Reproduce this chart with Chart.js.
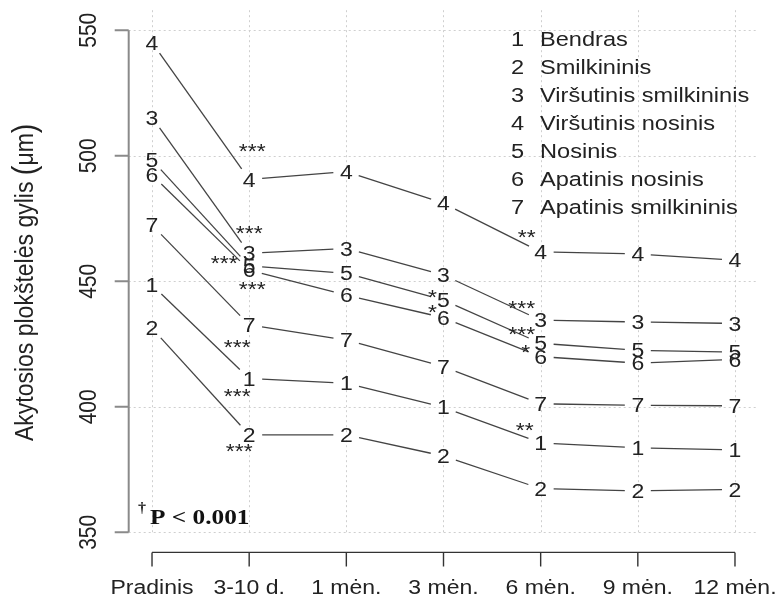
<!DOCTYPE html>
<html>
<head>
<meta charset="utf-8">
<script src="https://cdn.jsdelivr.net/npm/chart.js@4.4.1/dist/chart.umd.min.js"></script>
<style>
  html, body { margin: 0; padding: 0; background: #ffffff; }
  #wrap { width: 778px; height: 605px; position: relative; }
</style>
</head>
<body>
<div id="wrap"><canvas id="chart" width="778" height="605"></canvas></div>
<script>
// Visits
const timePoints = ['Pradinis', '3-10 d.', '1 mėn.', '3 mėn.', '6 mėn.', '9 mėn.', '12 mėn.'];

// Regions (legend order = marker digit)
const regionNames = ['Bendras', 'Smilkininis', 'Viršutinis smilkininis', 'Viršutinis nosinis',
                     'Nosinis', 'Apatinis nosinis', 'Apatinis smilkininis'];

// Mean depth (µm) per region at each visit
const bendras     = [448.5, 411.3, 409.4, 399.8, 385.6, 383.7, 382.8];
const smilkininis = [431.3, 388.8, 388.8, 380.4, 367.4, 366.5, 367.1];
const virsSmilk   = [515.3, 461.2, 463.1, 452.5, 434.5, 433.8, 433.2];
const virsNos     = [545.1, 490.6, 493.7, 481.1, 461.7, 460.9, 458.4];
const nosinis     = [498.3, 456.1, 453.2, 442.5, 425.3, 422.5, 421.8];
const apatNos     = [492.4, 454.5, 444.5, 435.5, 420.0, 417.4, 418.9];
const apatSmilk   = [472.4, 432.6, 426.6, 416.0, 401.2, 400.6, 400.4];

// Significance of change versus the previous visit
const sigBendras     = ['', '***', '', '', '**', '', ''];
const sigSmilkininis = ['', '***', '', '', '', '', ''];
const sigVirsSmilk   = ['', '***', '', '', '***', '', ''];
const sigVirsNos     = ['', '***', '', '', '**', '', ''];
const sigNosinis     = ['', '***', '', '*', '***', '', ''];
const sigApatNos     = ['', '***', '', '*', '*', '', ''];
const sigApatSmilk   = ['', '***', '', '', '', '', ''];

const yTicks = [350, 400, 450, 500, 550];
const yTitleMain = 'Akytosios plokštelės gylis ';
const yTitleUnit = 'μm';
const footNote = 'P < 0.001';

const seriesValues = [bendras, smilkininis, virsSmilk, virsNos, nosinis, apatNos, apatSmilk];
const seriesSig = [sigBendras, sigSmilkininis, sigVirsSmilk, sigVirsNos, sigNosinis, sigApatNos, sigApatSmilk];

// ---- styling / placement ----
const SANS = '"Liberation Sans", Arial, Helvetica, sans-serif';
const SERIF = '"Liberation Serif", "Times New Roman", serif';
const SX = 1.15;          // horizontal widening of all lettering
const FS = 20;            // base font size
const GAP = 13;           // gap between connecting lines and the digit markers
const INK = '#222222';
const LINE = '#444444';

// where each star group sits relative to its marker, keyed "series,visit"
const starOffset = {
  '0,1': [-12, 13], '1,1': [-10, 12], '2,1': [0, -25], '3,1': [3, -33],
  '4,1': [-25, -7], '5,1': [3, 15], '6,1': [-12, 18],
  '4,3': [-11, -8], '5,3': [-11, -10],
  '0,4': [-16, -17], '2,4': [-19, -17], '3,4': [-14, -19], '4,4': [-19, -14], '5,4': [-15, -9]
};

function drawText(ctx, s, x, y, o) {
  o = o || {};
  ctx.save();
  ctx.translate(x, y);
  ctx.scale(SX, 1);
  if (o.rotate) ctx.rotate(o.rotate);
  ctx.font = o.font || (FS + 'px ' + SANS);
  ctx.fillStyle = o.color || INK;
  ctx.textAlign = o.align || 'center';
  ctx.textBaseline = o.baseline || 'alphabetic';
  ctx.fillText(s, 0, 0);
  ctx.restore();
}

// vertical axis title with enlarged brackets around the unit
function drawYTitle(ctx, x, yc) {
  const fMain = '23px ' + SANS, fPar = '29px ' + SANS;
  ctx.save();
  ctx.translate(x, yc);
  ctx.scale(SX, 1);
  ctx.rotate(-Math.PI / 2);
  ctx.fillStyle = INK;
  ctx.textBaseline = 'alphabetic';
  ctx.textAlign = 'left';
  const parts = [[yTitleMain, fMain, 0], ['(', fPar, 2], [yTitleUnit, fMain, 0], [')', fPar, 2]];
  let total = 0;
  parts.forEach(p => { ctx.font = p[1]; total += ctx.measureText(p[0]).width; });
  let pos = -total / 2;
  parts.forEach(p => {
    ctx.font = p[1];
    ctx.fillText(p[0], pos, p[2]);
    pos += ctx.measureText(p[0]).width;
  });
  ctx.restore();
}

const rPlot = {
  id: 'rPlot',
  afterDraw(chart) {
    const ctx = chart.ctx;
    const xs = chart.scales.x, ys = chart.scales.y;
    const area = chart.chartArea;
    const yLow = ys.getPixelForValue(yTicks[0]);
    const yHigh = ys.getPixelForValue(yTicks[yTicks.length - 1]);

    // dotted reference grid
    ctx.save();
    ctx.strokeStyle = '#cfcfcf';
    ctx.lineWidth = 1;
    ctx.setLineDash([2, 3]);
    timePoints.forEach((_, j) => {
      const x = Math.round(xs.getPixelForValue(j)) + 0.5;
      ctx.beginPath(); ctx.moveTo(x, area.top); ctx.lineTo(x, yLow); ctx.stroke();
    });
    yTicks.forEach(v => {
      const y = Math.round(ys.getPixelForValue(v)) + 0.5;
      ctx.beginPath(); ctx.moveTo(area.left, y); ctx.lineTo(area.right, y); ctx.stroke();
    });
    ctx.restore();

    // y axis
    ctx.save();
    ctx.strokeStyle = '#8a8a8a';
    ctx.lineWidth = 2;
    ctx.beginPath();
    ctx.moveTo(area.left, yLow); ctx.lineTo(area.left, yHigh);
    yTicks.forEach(v => {
      const y = ys.getPixelForValue(v);
      ctx.moveTo(area.left, y); ctx.lineTo(area.left - 14, y);
    });
    ctx.stroke();
    ctx.restore();
    yTicks.forEach(v => {
      const y = ys.getPixelForValue(v);
      drawText(ctx, String(v), 96, y, { rotate: -Math.PI / 2, font: '21px ' + SANS });
    });

    // x axis
    const x0 = xs.getPixelForValue(0), x1 = xs.getPixelForValue(timePoints.length - 1);
    ctx.save();
    ctx.strokeStyle = '#333333';
    ctx.lineWidth = 1.4;
    ctx.beginPath();
    ctx.moveTo(x0, area.bottom); ctx.lineTo(x1, area.bottom);
    timePoints.forEach((_, j) => {
      const x = xs.getPixelForValue(j);
      ctx.moveTo(x, area.bottom); ctx.lineTo(x, area.bottom + 14);
    });
    ctx.stroke();
    ctx.restore();
    timePoints.forEach((t, j) => {
      drawText(ctx, t, xs.getPixelForValue(j), 594, { font: '20px ' + SANS });
    });

    // y title
    drawYTitle(ctx, 33, (area.top + area.bottom) / 2 + 1);

    // connecting segments, interrupted around markers
    ctx.save();
    ctx.strokeStyle = LINE;
    ctx.lineWidth = 1.3;
    chart.data.datasets.forEach((ds, i) => {
      const pts = chart.getDatasetMeta(i).data;
      for (let k = 0; k < pts.length - 1; k++) {
        const a = pts[k], b = pts[k + 1];
        const dx = b.x - a.x, dy = b.y - a.y;
        const len = Math.hypot(dx, dy);
        if (len <= 2 * GAP) continue;
        const ux = dx / len, uy = dy / len;
        ctx.beginPath();
        ctx.moveTo(a.x + ux * GAP, a.y + uy * GAP);
        ctx.lineTo(b.x - ux * GAP, b.y - uy * GAP);
        ctx.stroke();
      }
    });
    ctx.restore();

    // digit markers
    chart.data.datasets.forEach((ds, i) => {
      const pts = chart.getDatasetMeta(i).data;
      pts.forEach(p => {
        drawText(ctx, String(i + 1), p.x, p.y + 0.358 * FS, { font: FS + 'px ' + SANS });
      });
    });

    // significance stars
    chart.data.datasets.forEach((ds, i) => {
      const pts = chart.getDatasetMeta(i).data;
      seriesSig[i].forEach((s, j) => {
        if (!s) return;
        const off = starOffset[i + ',' + j] || [0, -18];
        drawText(ctx, s, pts[j].x + off[0], pts[j].y + off[1] + 0.57 * FS, { font: FS + 'px ' + SANS });
      });
    });

    // legend block
    regionNames.forEach((name, i) => {
      const y = 39 + i * 27.95 + 0.358 * 20.5;
      drawText(ctx, String(i + 1), 517.5, y, { font: '20.5px ' + SANS });
      drawText(ctx, name, 540, y, { font: '20.5px ' + SANS, align: 'left' });
    });

    // footnote
    drawText(ctx, '†', 142, 512, { font: 'bold 14px ' + SERIF });
    drawText(ctx, footNote, 150, 524, { font: 'bold 22px ' + SERIF, align: 'left', color: '#111' });
  }
};

new Chart(document.getElementById('chart'), {
  type: 'line',
  data: {
    datasets: seriesValues.map((vals, i) => ({
      label: regionNames[i],
      data: vals.map((v, j) => ({ x: j, y: v })),
      showLine: false,
      pointRadius: 0,
      pointHoverRadius: 0
    }))
  },
  options: {
    responsive: false,
    animation: false,
    events: [],
    layout: { padding: { left: 128.7, right: 19.7, top: 10.2, bottom: 52.6 } },
    scales: {
      x: { type: 'linear', min: -0.24, max: timePoints.length - 1 + 0.24, display: false },
      y: { type: 'linear', min: 342, max: 558, display: false }
    },
    plugins: { legend: { display: false }, tooltip: { enabled: false } }
  },
  plugins: [rPlot]
});
</script>
</body>
</html>
